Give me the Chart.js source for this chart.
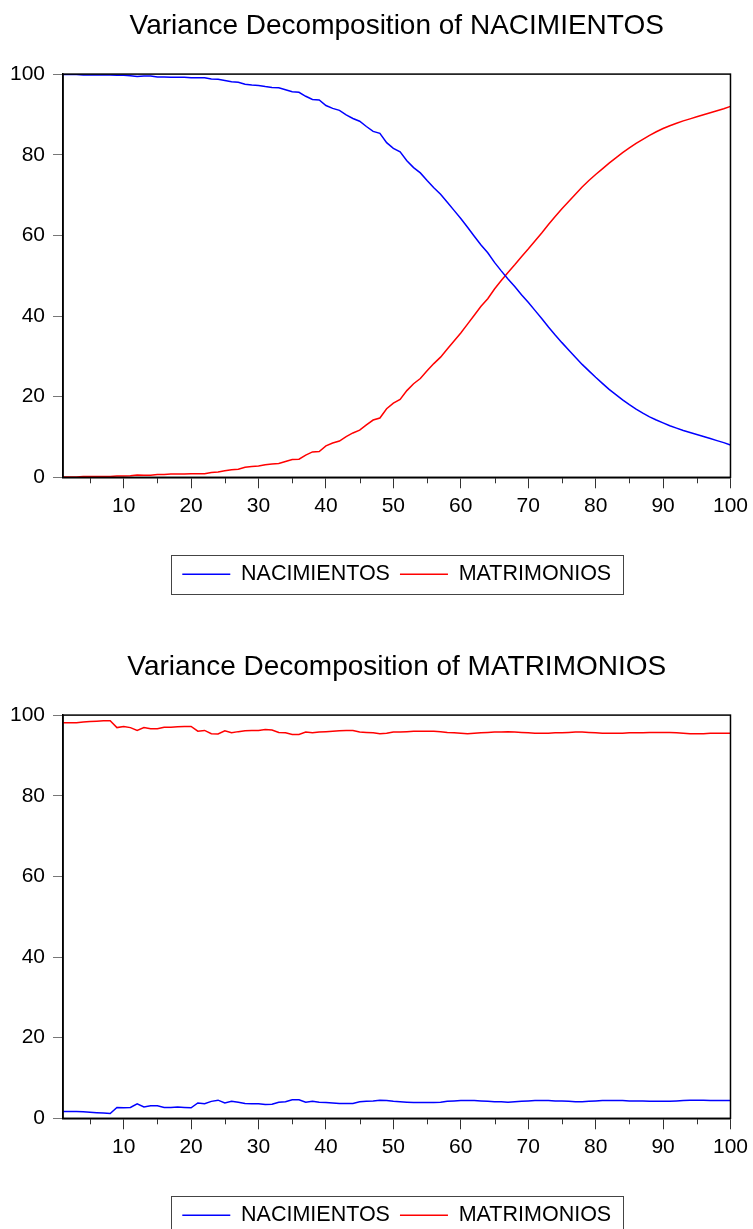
<!DOCTYPE html>
<html>
<head>
<meta charset="utf-8">
<script src="https://cdn.jsdelivr.net/npm/chart.js@4.4.1/dist/chart.umd.min.js"></script>
<style>
  html, body { margin: 0; padding: 0; background: #fff; overflow: hidden; }
  .panel { width: 753px; height: 641px; }
  canvas { display: block; }
</style>
</head>
<body>
<div class="panel"><canvas id="chart-1" width="753" height="641"></canvas></div>
<div class="panel"><canvas id="chart-2" width="753" height="641"></canvas></div>
<script>
// Periods of the forecast horizon
const periods = Array.from({ length: 100 }, (_, i) => i + 1);
const seriesNames = ['NACIMIENTOS', 'MATRIMONIOS'];
const xMajorTicks = [10, 20, 30, 40, 50, 60, 70, 80, 90, 100];
const xMinorTicks = [5, 15, 25, 35, 45, 55, 65, 75, 85, 95];
const yTicks = [0, 20, 40, 60, 80, 100];

// Variance decomposition of NACIMIENTOS (percent)
const nacOfNac = [
    99.9, 99.9, 99.9, 99.8, 99.8, 99.8, 99.8, 99.8, 99.7, 99.7,
    99.6, 99.4, 99.5, 99.5, 99.3, 99.3, 99.2, 99.2, 99.2, 99.1,
    99.1, 99.1, 98.8, 98.7, 98.4, 98.1, 98.0, 97.5, 97.3, 97.2,
    96.9, 96.7, 96.6, 96.1, 95.6, 95.5, 94.5, 93.7, 93.6, 92.2,
    91.5, 91.0, 89.9, 89.0, 88.3, 87.0, 85.8, 85.3, 83.0, 81.6,
    80.7, 78.5, 76.8, 75.5, 73.6, 71.8, 70.2, 68.2, 66.2, 64.2,
    62.0, 59.8, 57.6, 55.7, 53.3, 51.2, 49.2, 47.3, 45.3, 43.4,
    41.4, 39.4, 37.3, 35.3, 33.4, 31.6, 29.8, 28.0, 26.4, 24.8,
    23.3, 21.8, 20.5, 19.2, 18.0, 16.9, 15.9, 15.0, 14.2, 13.5,
    12.8, 12.2, 11.6, 11.1, 10.6, 10.1, 9.6, 9.1, 8.6, 8.0,
];
const matOfNac = [
    0.1, 0.1, 0.1, 0.2, 0.2, 0.2, 0.2, 0.2, 0.3, 0.3,
    0.4, 0.6, 0.5, 0.5, 0.7, 0.7, 0.8, 0.8, 0.8, 0.9,
    0.9, 0.9, 1.2, 1.3, 1.6, 1.9, 2.0, 2.5, 2.7, 2.8,
    3.1, 3.3, 3.4, 3.9, 4.4, 4.5, 5.5, 6.3, 6.4, 7.8,
    8.5, 9.0, 10.1, 11.0, 11.7, 13.0, 14.2, 14.7, 17.0, 18.4,
    19.3, 21.5, 23.2, 24.5, 26.4, 28.2, 29.8, 31.8, 33.8, 35.8,
    38.0, 40.2, 42.4, 44.3, 46.7, 48.8, 50.8, 52.7, 54.7, 56.6,
    58.6, 60.6, 62.7, 64.7, 66.6, 68.4, 70.2, 72.0, 73.6, 75.1,
    76.5, 77.9, 79.2, 80.5, 81.7, 82.8, 83.8, 84.8, 85.7, 86.5,
    87.2, 87.8, 88.4, 88.9, 89.4, 89.9, 90.4, 90.9, 91.4, 92.0,
];

// Variance decomposition of MATRIMONIOS (percent)
const nacOfMat = [
    1.7, 1.7, 1.7, 1.6, 1.5, 1.4, 1.3, 1.2, 2.7, 2.6,
    2.7, 3.6, 2.8, 3.1, 3.1, 2.7, 2.7, 2.8, 2.7, 2.6,
    3.8, 3.6, 4.2, 4.5, 3.8, 4.2, 4.0, 3.7, 3.6, 3.6,
    3.4, 3.5, 4.0, 4.1, 4.6, 4.6, 4.0, 4.2, 4.0, 3.9,
    3.8, 3.7, 3.7, 3.7, 4.1, 4.2, 4.3, 4.5, 4.4, 4.2,
    4.1, 4.0, 3.9, 3.9, 3.9, 3.9, 4.0, 4.2, 4.3, 4.4,
    4.4, 4.4, 4.3, 4.2, 4.1, 4.1, 4.0, 4.1, 4.2, 4.3,
    4.4, 4.4, 4.4, 4.3, 4.3, 4.2, 4.1, 4.1, 4.2, 4.3,
    4.4, 4.4, 4.4, 4.4, 4.3, 4.3, 4.3, 4.2, 4.2, 4.2,
    4.2, 4.3, 4.4, 4.5, 4.5, 4.5, 4.4, 4.4, 4.4, 4.4,
];
const matOfMat = [
    98.1, 98.1, 98.1, 98.3, 98.4, 98.5, 98.6, 98.6, 96.9, 97.2,
    96.9, 96.2, 96.9, 96.6, 96.6, 97.0, 97.0, 97.1, 97.2, 97.2,
    96.0, 96.2, 95.4, 95.3, 96.1, 95.6, 95.9, 96.1, 96.2, 96.2,
    96.4, 96.3, 95.7, 95.6, 95.2, 95.2, 95.8, 95.6, 95.8, 95.9,
    96.0, 96.1, 96.2, 96.2, 95.8, 95.7, 95.6, 95.4, 95.5, 95.8,
    95.8, 95.9, 96.0, 96.0, 96.0, 96.0, 95.9, 95.7, 95.6, 95.5,
    95.4, 95.5, 95.6, 95.7, 95.8, 95.8, 95.9, 95.8, 95.7, 95.6,
    95.5, 95.5, 95.5, 95.6, 95.6, 95.7, 95.8, 95.8, 95.7, 95.6,
    95.5, 95.5, 95.5, 95.5, 95.6, 95.6, 95.6, 95.7, 95.7, 95.7,
    95.7, 95.6, 95.5, 95.4, 95.4, 95.4, 95.5, 95.5, 95.5, 95.5,
];

const fontFamily = '"Liberation Sans", Arial, sans-serif';

// Draws the minor x ticks, the box round the plot and the box round the legend
const framePlugin = {
    id: 'frame',
    afterDraw(chart) {
        const { ctx, chartArea: area, scales, legend } = chart;
        ctx.save();

        ctx.strokeStyle = '#333';
        ctx.lineWidth = 1;
        xMinorTicks.forEach((v) => {
            const px = Math.round(scales.x.getPixelForValue(v)) + 0.5;
            ctx.beginPath();
            ctx.moveTo(px, area.bottom);
            ctx.lineTo(px, area.bottom + 6);
            ctx.stroke();
        });

        ctx.strokeStyle = '#000';
        ctx.lineWidth = 1.5;
        ctx.strokeRect(area.left, area.top, area.right - area.left, area.bottom - area.top);

        const boxes = legend.legendHitBoxes;
        if (boxes && boxes.length) {
            const first = boxes[0];
            const last = boxes[boxes.length - 1];
            const left = first.left - 11;
            const right = last.left + last.width + 12;
            const top = first.top + first.height / 2 - 19.5;
            ctx.strokeStyle = '#444';
            ctx.lineWidth = 1;
            ctx.strokeRect(Math.round(left) + 0.5, Math.round(top) + 0.5, Math.round(right - left), 39);
        }
        ctx.restore();
    },
};

function buildChart(canvasId, title, nacData, matData) {
    const ctx = document.getElementById(canvasId).getContext('2d');
    return new Chart(ctx, {
        type: 'line',
        data: {
            labels: periods,
            datasets: [
                { label: seriesNames[0], data: nacData, borderColor: '#0000ff', borderWidth: 1.5, pointRadius: 0, tension: 0 },
                { label: seriesNames[1], data: matData, borderColor: '#ff0000', borderWidth: 1.5, pointRadius: 0, tension: 0 },
            ],
        },
        options: {
            responsive: false,
            animation: false,
            layout: { padding: { left: 0, right: 20, top: 0, bottom: 46 } },
            plugins: {
                title: {
                    display: true,
                    text: title,
                    fullSize: false,
                    color: '#000',
                    font: { family: fontFamily, size: 28, weight: 'normal' },
                    padding: { top: 9.5, bottom: 31 },
                },
                legend: {
                    position: 'bottom',
                    fullSize: false,
                    labels: {
                        color: '#000',
                        font: { family: fontFamily, size: 21.5 },
                        usePointStyle: true,
                        pointStyle: 'line',
                        pointStyleWidth: 48,
                        padding: 10,
                    },
                },
                tooltip: { enabled: false },
            },
            scales: {
                x: {
                    type: 'linear',
                    min: 1,
                    max: 100,
                    afterBuildTicks: (scale) => { scale.ticks = xMajorTicks.map((v) => ({ value: v })); },
                    afterFit: (scale) => { scale.height += 30; },
                    grid: { drawOnChartArea: false, tickLength: 11, tickColor: '#333' },
                    border: { color: '#000', width: 1.5 },
                    ticks: {
                        autoSkip: false,
                        maxRotation: 0,
                        padding: 5,
                        color: '#000',
                        font: { family: fontFamily, size: 21 },
                        callback: (value) => String(value),
                    },
                },
                y: {
                    min: 0,
                    max: 100,
                    afterBuildTicks: (scale) => { scale.ticks = yTicks.map((v) => ({ value: v })); },
                    afterFit: (scale) => { scale.width = 63; },
                    grid: { drawOnChartArea: false, tickLength: 10, tickColor: '#777' },
                    border: { color: '#000', width: 1.5 },
                    ticks: {
                        padding: 8,
                        color: '#000',
                        font: { family: fontFamily, size: 21 },
                        callback: (value) => String(value),
                    },
                },
            },
        },
        plugins: [framePlugin],
    });
}

buildChart('chart-1', 'Variance Decomposition of NACIMIENTOS', nacOfNac, matOfNac);
buildChart('chart-2', 'Variance Decomposition of MATRIMONIOS', nacOfMat, matOfMat);
</script>
</body>
</html>
